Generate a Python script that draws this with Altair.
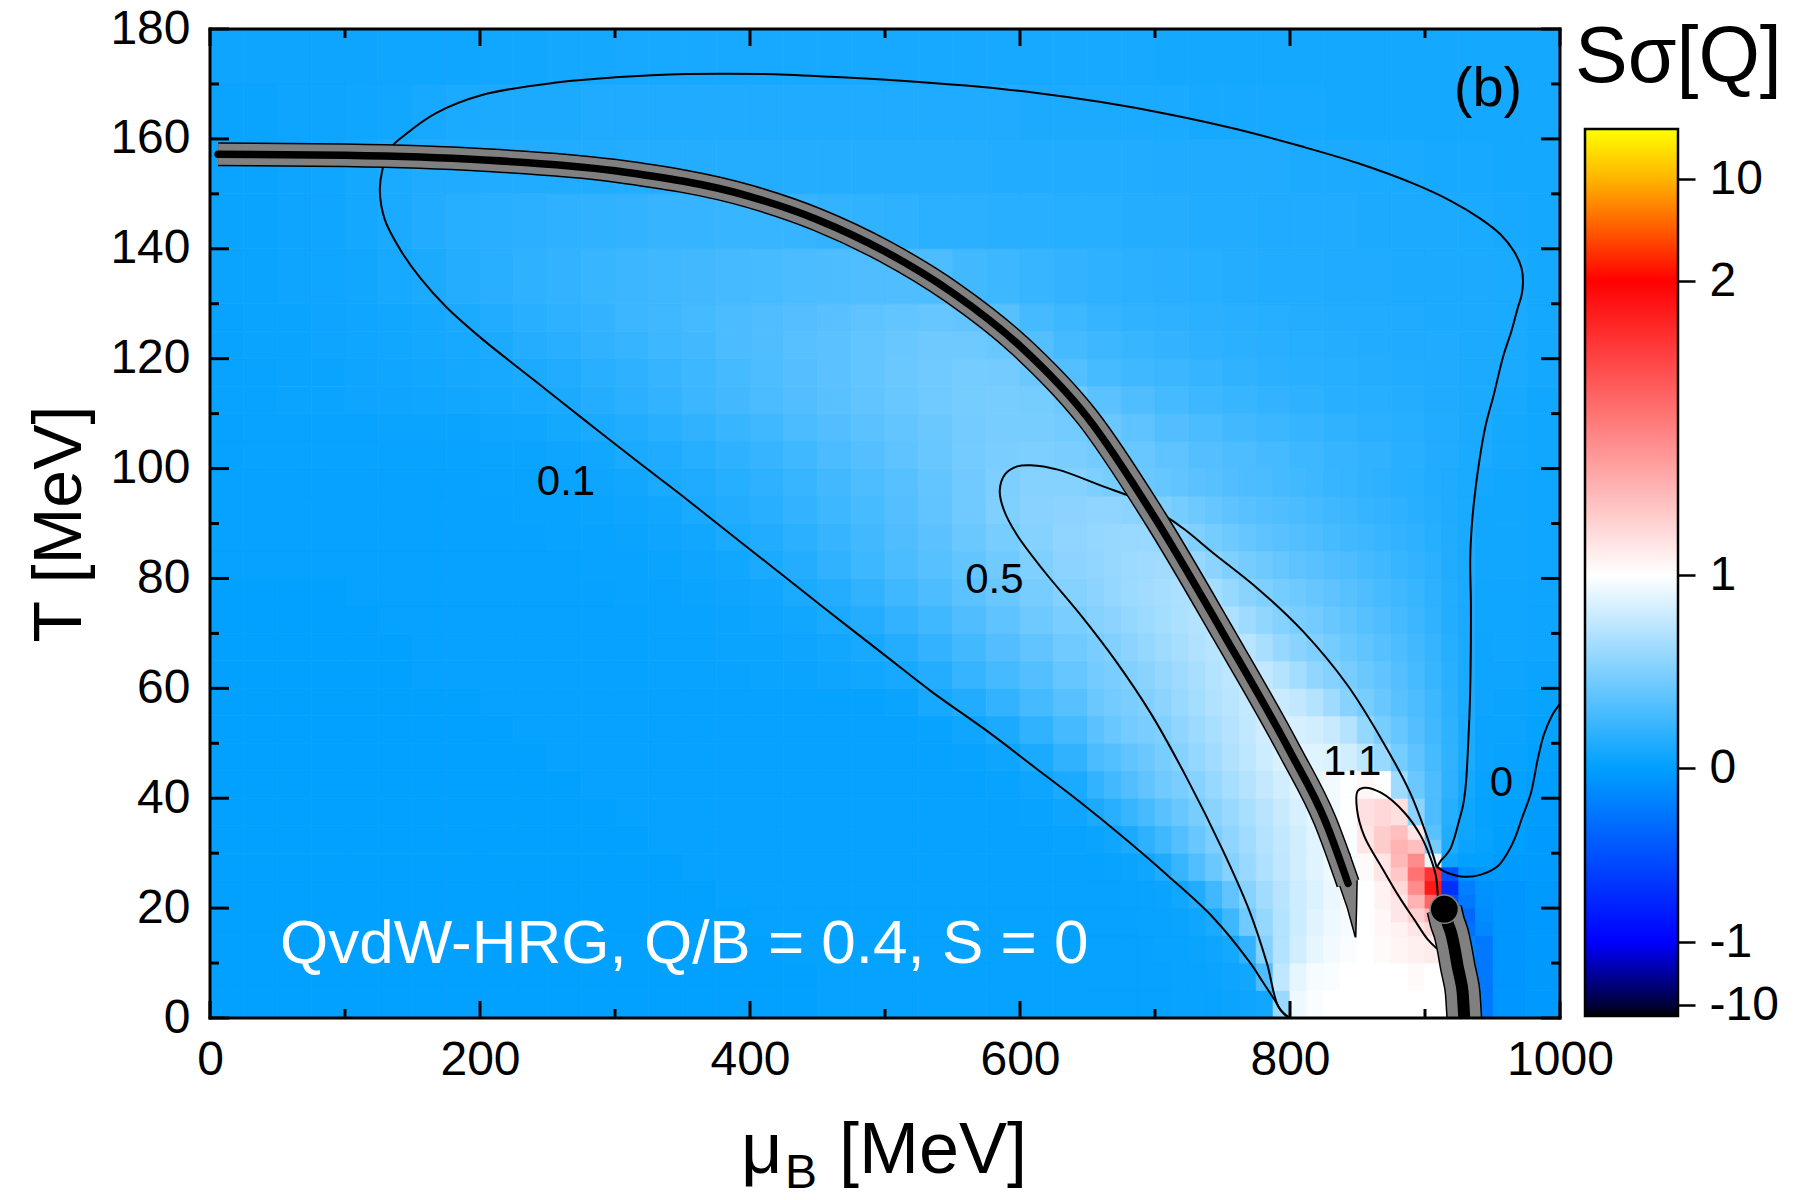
import altair as alt
import pandas as pd

FONT = "Liberation Sans"
W, H = 1350, 989  # plot area in px

# ---------------------------------------------------------------------------
# S*sigma[Q] sampled on a (mu_B, T) grid; rows run from low T to high T
# ---------------------------------------------------------------------------
MU_EDGES = list(range(0, 1001, 25))
T_EDGES = [0, 5, 10, 15, 20, 25, 30, 35, 40, 45, 50, 55, 60, 65, 70, 75, 80, 85, 90, 95, 100,
           105, 110, 115, 120, 125, 130, 140, 150, 160, 170, 180]

S_GRID = [
    # T 0-5
    [0.01, 0.01, 0.01, 0.01, 0.01, 0.01, 0.01, 0.01, 0.01, 0.01, 0.01, 0.01, 0.01, 0.01, 0.01, 0.01, 0.01, 0.01,
     0.02, 0.02, 0.02, 0.02, 0.02, 0.02, 0.02, 0.02, 0.02, 0.02, 0.02, 0.02,
     0.05, 0.40, 0.95, 1.00, 1.00, 1.00, 1.00, -0.20, -0.06, -0.04],
    # T 5-10
    [0.01, 0.01, 0.01, 0.01, 0.01, 0.01, 0.01, 0.01, 0.01, 0.01, 0.01, 0.01, 0.01, 0.01, 0.01, 0.01, 0.01, 0.01,
     0.02, 0.02, 0.02, 0.02, 0.02, 0.02, 0.02, 0.02, 0.02, 0.02, 0.02, 0.02,
     0.06, 0.50, 0.90, 0.98, 1.00, 1.02, 1.00, -0.20, -0.06, -0.04],
    # T 10-15
    [0.01, 0.01, 0.01, 0.01, 0.01, 0.01, 0.01, 0.01, 0.01, 0.01, 0.01, 0.01, 0.01, 0.01, 0.01, 0.01, 0.01,
     0.02, 0.02, 0.02, 0.02, 0.02, 0.02, 0.02, 0.02, 0.02, 0.02, 0.02, 0.02,
     0.04, 0.09, 0.58, 0.86, 0.96, 1.00, 1.06, 1.00, -0.20, -0.06, -0.04],
    # T 15-20
    [0.01, 0.01, 0.01, 0.01, 0.01, 0.01, 0.01, 0.01, 0.01, 0.01, 0.01, 0.01, 0.01, 0.01, 0.01, 0.01,
     0.02, 0.02, 0.02, 0.02, 0.02, 0.02, 0.02, 0.02, 0.02, 0.02, 0.02, 0.02,
     0.04, 0.08, 0.32, 0.62, 0.82, 0.95, 1.02, 1.10, 1.00, -0.20, -0.06, -0.04],
    # T 20-25
    [0.01, 0.01, 0.01, 0.01, 0.01, 0.01, 0.01, 0.01, 0.01, 0.01, 0.01, 0.01, 0.01, 0.01, 0.01,
     0.02, 0.02, 0.02, 0.02, 0.02, 0.02, 0.02, 0.02, 0.02, 0.02, 0.02,
     0.03, 0.05, 0.08, 0.20, 0.45, 0.66, 0.82, 0.94, 1.02, 1.25, 0.50, -0.15, -0.06, -0.04],
    # T 25-30
    [0.01, 0.01, 0.01, 0.01, 0.01, 0.01, 0.01, 0.01, 0.01, 0.01, 0.01, 0.01, 0.01, 0.01,
     0.02, 0.02, 0.02, 0.02, 0.02, 0.02, 0.02, 0.02, 0.02, 0.02, 0.02, 0.02,
     0.04, 0.07, 0.16, 0.34, 0.53, 0.70, 0.84, 0.96, 1.08, 1.35, 0.40, -0.05, -0.03, -0.03],
    # T 30-35
    [0.01, 0.01, 0.01, 0.01, 0.01, 0.01, 0.01, 0.01, 0.01, 0.01, 0.01, 0.01, 0.01,
     0.02, 0.02, 0.02, 0.02, 0.02, 0.02, 0.02, 0.02, 0.02, 0.02, 0.02, 0.02,
     0.03, 0.05, 0.12, 0.28, 0.45, 0.60, 0.74, 0.86, 0.97, 1.15, 1.28, 0.25, 0.04, 0.00, -0.03],
    # T 35-40
    [0.01, 0.01, 0.01, 0.01, 0.01, 0.01, 0.01, 0.01, 0.01, 0.01, 0.01, 0.01,
     0.02, 0.02, 0.02, 0.02, 0.02, 0.02, 0.02, 0.02, 0.02, 0.02, 0.02, 0.02,
     0.03, 0.05, 0.10, 0.22, 0.36, 0.50, 0.63, 0.76, 0.87, 0.98, 1.12, 0.85, 0.22, 0.05, 0.01, -0.02],
    # T 40-45
    [0.01, 0.01, 0.01, 0.01, 0.01, 0.01, 0.01, 0.01, 0.01, 0.01, 0.01,
     0.02, 0.02, 0.02, 0.02, 0.02, 0.02, 0.02, 0.02, 0.02, 0.02, 0.02, 0.02,
     0.03, 0.05, 0.10, 0.19, 0.30, 0.45, 0.57, 0.67, 0.78, 0.88, 0.96, 1.02, 0.58, 0.25, 0.07, 0.02, -0.01],
    # T 45-50
    [0.01, 0.01, 0.01, 0.01, 0.01, 0.01, 0.01, 0.01, 0.01, 0.01,
     0.02, 0.02, 0.02, 0.02, 0.02, 0.02, 0.02, 0.02, 0.02, 0.02, 0.02, 0.02,
     0.03, 0.05, 0.10, 0.19, 0.29, 0.38, 0.48, 0.59, 0.70, 0.80, 0.88, 0.86, 0.66, 0.40, 0.21, 0.08, 0.03, 0.01],
    # T 50-55
    [0.01, 0.01, 0.01, 0.01, 0.01, 0.01, 0.01, 0.01, 0.01,
     0.02, 0.02, 0.02, 0.02, 0.02, 0.02, 0.02, 0.02, 0.02, 0.02, 0.02, 0.02,
     0.03, 0.06, 0.11, 0.19, 0.27, 0.35, 0.44, 0.53, 0.62, 0.71, 0.79, 0.84, 0.80, 0.54, 0.36, 0.20, 0.09, 0.04, 0.02],
    # T 55-60
    [0.01, 0.01, 0.01, 0.01, 0.01, 0.01, 0.01, 0.01,
     0.02, 0.02, 0.02, 0.02, 0.02, 0.02, 0.02, 0.02, 0.02, 0.02, 0.02, 0.02,
     0.04, 0.09, 0.13, 0.20, 0.27, 0.34, 0.41, 0.48, 0.56, 0.65, 0.73, 0.79, 0.78, 0.62, 0.45, 0.32, 0.19, 0.09, 0.04, 0.03],
    # T 60-65
    [0.01, 0.01, 0.01, 0.01, 0.01, 0.01, 0.02, 0.02, 0.02, 0.02, 0.02, 0.02, 0.02, 0.03, 0.03, 0.03,
     0.04, 0.04, 0.05, 0.07, 0.09, 0.14, 0.21, 0.27, 0.33, 0.40, 0.46, 0.53, 0.60, 0.67, 0.75, 0.77, 0.67, 0.50,
     0.40, 0.30, 0.20, 0.09, 0.05, 0.04],
    # T 65-70
    [0.01, 0.01, 0.01, 0.01, 0.01, 0.01, 0.02, 0.02, 0.02, 0.02, 0.02, 0.02, 0.02, 0.03, 0.03,
     0.04, 0.04, 0.05, 0.07, 0.09, 0.14, 0.20, 0.26, 0.32, 0.38, 0.44, 0.50, 0.57, 0.64, 0.71, 0.73, 0.64, 0.52,
     0.45, 0.37, 0.28, 0.19, 0.10, 0.06, 0.05],
    # T 70-75
    [0.01, 0.01, 0.01, 0.01, 0.01, 0.02, 0.02, 0.02, 0.02, 0.02, 0.02, 0.02, 0.02, 0.03, 0.03,
     0.04, 0.05, 0.07, 0.10, 0.14, 0.20, 0.25, 0.31, 0.37, 0.43, 0.48, 0.54, 0.60, 0.66, 0.71, 0.65, 0.55, 0.47,
     0.41, 0.34, 0.26, 0.18, 0.10, 0.06, 0.05],
    # T 75-80
    [0.01, 0.01, 0.01, 0.01, 0.02, 0.02, 0.02, 0.02, 0.02, 0.02, 0.02, 0.02, 0.03, 0.03,
     0.04, 0.05, 0.07, 0.10, 0.14, 0.19, 0.25, 0.30, 0.36, 0.41, 0.47, 0.52, 0.57, 0.62, 0.66, 0.64, 0.55, 0.48,
     0.42, 0.36, 0.30, 0.23, 0.16, 0.10, 0.06, 0.05],
    # T 80-85
    [0.02, 0.02, 0.02, 0.02, 0.02, 0.02, 0.02, 0.02, 0.02, 0.02, 0.02, 0.03, 0.03,
     0.04, 0.05, 0.07, 0.10, 0.14, 0.19, 0.24, 0.29, 0.34, 0.39, 0.44, 0.50, 0.55, 0.59, 0.62, 0.62, 0.55, 0.47,
     0.41, 0.36, 0.31, 0.26, 0.20, 0.15, 0.10, 0.07, 0.06],
    # T 85-90
    [0.02, 0.02, 0.02, 0.02, 0.02, 0.02, 0.02, 0.02, 0.02, 0.02, 0.03, 0.03,
     0.04, 0.05, 0.07, 0.10, 0.13, 0.17, 0.21, 0.26, 0.31, 0.36, 0.42, 0.47, 0.52, 0.56, 0.59, 0.60, 0.55, 0.48,
     0.42, 0.37, 0.32, 0.28, 0.23, 0.19, 0.14, 0.10, 0.07, 0.06],
    # T 90-95
    [0.02, 0.02, 0.02, 0.02, 0.02, 0.02, 0.02, 0.02, 0.02, 0.03, 0.03,
     0.04, 0.05, 0.07, 0.10, 0.13, 0.16, 0.20, 0.24, 0.28, 0.33, 0.38, 0.44, 0.50, 0.53, 0.55, 0.56, 0.53, 0.47,
     0.42, 0.37, 0.33, 0.29, 0.25, 0.21, 0.18, 0.14, 0.10, 0.07, 0.06],
    # T 95-100
    [0.02, 0.02, 0.02, 0.02, 0.02, 0.02, 0.02, 0.02, 0.03, 0.03,
     0.04, 0.05, 0.07, 0.10, 0.12, 0.15, 0.18, 0.22, 0.26, 0.30, 0.34, 0.39, 0.44, 0.49, 0.52, 0.52, 0.49, 0.45,
     0.41, 0.37, 0.34, 0.30, 0.27, 0.23, 0.20, 0.17, 0.13, 0.10, 0.07, 0.06],
    # T 100-105
    [0.02, 0.03, 0.03, 0.03, 0.03, 0.03, 0.03, 0.03,
     0.04, 0.04, 0.05, 0.07, 0.10, 0.12, 0.15, 0.18, 0.21, 0.25, 0.29, 0.33, 0.37, 0.41, 0.45, 0.48, 0.49, 0.48,
     0.45, 0.41, 0.37, 0.33, 0.30, 0.27, 0.24, 0.21, 0.19, 0.16, 0.13, 0.10, 0.08, 0.07],
    # T 105-110
    [0.02, 0.03, 0.03, 0.03, 0.03, 0.04, 0.04, 0.04, 0.05, 0.06, 0.08, 0.10, 0.13, 0.16, 0.19, 0.22, 0.25, 0.29,
     0.32, 0.36, 0.39, 0.42, 0.45, 0.47, 0.47, 0.45, 0.42, 0.37, 0.32, 0.29, 0.26, 0.23, 0.21, 0.19, 0.17, 0.15,
     0.13, 0.11, 0.08, 0.07],
    # T 110-115
    [0.03, 0.03, 0.04, 0.04, 0.05, 0.05, 0.06, 0.07, 0.08, 0.09, 0.11, 0.14, 0.17, 0.20, 0.23, 0.26, 0.29, 0.32,
     0.35, 0.38, 0.41, 0.44, 0.46, 0.47, 0.46, 0.43, 0.36, 0.31, 0.27, 0.24, 0.22, 0.20, 0.18, 0.16, 0.15, 0.14,
     0.12, 0.11, 0.09, 0.07],
    # T 115-120
    [0.03, 0.03, 0.04, 0.04, 0.05, 0.06, 0.07, 0.08, 0.09, 0.11, 0.13, 0.16, 0.18, 0.21, 0.24, 0.27, 0.30, 0.33,
     0.36, 0.39, 0.42, 0.44, 0.46, 0.45, 0.42, 0.33, 0.28, 0.25, 0.23, 0.21, 0.19, 0.17, 0.16, 0.15, 0.14, 0.13,
     0.12, 0.11, 0.10, 0.08],
    # T 120-125
    [0.03, 0.04, 0.04, 0.05, 0.06, 0.07, 0.08, 0.09, 0.11, 0.14, 0.16, 0.19, 0.21, 0.24, 0.26, 0.29, 0.31, 0.34,
     0.36, 0.39, 0.41, 0.43, 0.43, 0.41, 0.33, 0.27, 0.24, 0.22, 0.20, 0.18, 0.17, 0.16, 0.15, 0.14, 0.13, 0.12,
     0.12, 0.11, 0.10, 0.08],
    # T 125-130
    [0.03, 0.04, 0.04, 0.05, 0.06, 0.07, 0.08, 0.10, 0.13, 0.16, 0.18, 0.20, 0.23, 0.25, 0.27, 0.29, 0.31, 0.33,
     0.35, 0.37, 0.39, 0.40, 0.39, 0.34, 0.27, 0.24, 0.21, 0.19, 0.18, 0.17, 0.16, 0.15, 0.14, 0.13, 0.13, 0.12,
     0.11, 0.11, 0.10, 0.08],
    # T 130-140
    [0.04, 0.04, 0.05, 0.06, 0.07, 0.09, 0.11, 0.14, 0.16, 0.18, 0.20, 0.22, 0.23, 0.25, 0.26, 0.27, 0.28, 0.29,
     0.30, 0.31, 0.31, 0.30, 0.26, 0.24, 0.22, 0.20, 0.18, 0.17, 0.16, 0.15, 0.14, 0.13, 0.13, 0.12, 0.12, 0.11,
     0.11, 0.11, 0.10, 0.08],
    # T 140-150
    [0.04, 0.04, 0.05, 0.06, 0.08, 0.10, 0.13, 0.15, 0.16, 0.17, 0.18, 0.19, 0.20, 0.21, 0.21, 0.22, 0.22, 0.21,
     0.20, 0.19, 0.18, 0.17, 0.17, 0.16, 0.16, 0.15, 0.15, 0.14, 0.14, 0.13, 0.13, 0.12, 0.12, 0.12, 0.11, 0.11,
     0.11, 0.10, 0.09, 0.08],
    # T 150-160
    [0.04, 0.04, 0.05, 0.06, 0.08, 0.10, 0.12, 0.12, 0.13, 0.13, 0.13, 0.13, 0.14, 0.14, 0.14, 0.14, 0.14, 0.14,
     0.14, 0.14, 0.14, 0.14, 0.14, 0.13, 0.13, 0.13, 0.13, 0.13, 0.12, 0.12, 0.12, 0.12, 0.11, 0.11, 0.10, 0.10,
     0.09, 0.09, 0.08, 0.08],
    # T 160-170
    [0.04, 0.04, 0.05, 0.05, 0.06, 0.07, 0.09, 0.10, 0.11, 0.11, 0.11, 0.12, 0.12, 0.12, 0.12, 0.12, 0.12, 0.12,
     0.12, 0.12, 0.12, 0.12, 0.12, 0.12, 0.11, 0.11, 0.11, 0.10, 0.10, 0.09, 0.09, 0.09, 0.09, 0.08, 0.08, 0.08,
     0.08, 0.08, 0.08, 0.08],
    # T 170-180
    [0.05, 0.05, 0.05, 0.05, 0.05, 0.06, 0.06, 0.06, 0.07, 0.07, 0.08, 0.08, 0.09, 0.09, 0.09, 0.09, 0.09, 0.09,
     0.09, 0.09, 0.09, 0.09, 0.09, 0.09, 0.09, 0.09, 0.09, 0.09, 0.08, 0.08, 0.08, 0.08, 0.08, 0.08, 0.08, 0.08,
     0.08, 0.08, 0.08, 0.08],
]

# finer sampling (12.5 MeV x 5 MeV) over the bright region, mu_B 650-950, T 0-100
FINE_MU_EDGES = [650 + 12.5 * k for k in range(25)]
FINE_T_EDGES = list(range(0, 101, 5))
FINE_GRID = [
    [0.02, 0.02, 0.02, 0.02, 0.02, 0.03, 0.03, 0.03, 0.04, 0.05, 0.07, 0.60, 0.93, 0.98, 1.00, 1.00, 1.00, 1.00,
     1.00, 1.00, 1.00, 1.00, -0.20, -0.25],
    [0.02, 0.02, 0.02, 0.02, 0.02, 0.03, 0.03, 0.04, 0.05, 0.07, 0.30, 0.75, 0.90, 0.96, 0.98, 1.00, 1.00, 1.00,
     1.00, 1.02, 1.00, 1.00, -0.20, -0.25],
    [0.02, 0.02, 0.02, 0.02, 0.03, 0.03, 0.04, 0.05, 0.08, 0.20, 0.52, 0.70, 0.82, 0.90, 0.95, 0.98, 1.00, 1.02,
     1.04, 1.06, 1.08, 1.00, -0.20, -0.25],
    [0.02, 0.02, 0.02, 0.03, 0.03, 0.04, 0.06, 0.10, 0.24, 0.44, 0.58, 0.70, 0.80, 0.88, 0.93, 0.96, 1.00, 1.03,
     1.06, 1.10, 1.20, 1.00, -0.30, -0.20],
    [0.02, 0.02, 0.03, 0.03, 0.04, 0.07, 0.13, 0.25, 0.38, 0.53, 0.63, 0.72, 0.80, 0.86, 0.92, 0.96, 1.00, 1.05,
     1.10, 1.30, 1.70, -0.50, -0.20, -0.08],
    [0.02, 0.03, 0.04, 0.06, 0.12, 0.22, 0.32, 0.42, 0.52, 0.60, 0.68, 0.75, 0.82, 0.88, 0.93, 0.97, 1.02, 1.10,
     1.22, 1.45, 1.30, 0.00, -0.05, -0.04],
    [0.04, 0.06, 0.11, 0.18, 0.25, 0.33, 0.41, 0.49, 0.56, 0.63, 0.70, 0.76, 0.82, 0.88, 0.93, 0.98, 1.10, 1.20,
     1.28, 1.20, 0.40, 0.12, 0.04, 0.02],
    [0.11, 0.16, 0.22, 0.28, 0.35, 0.41, 0.47, 0.54, 0.60, 0.66, 0.72, 0.78, 0.84, 0.89, 0.94, 1.00, 1.12, 1.15,
     1.12, 0.55, 0.30, 0.15, 0.06, 0.02],
    [0.20, 0.26, 0.32, 0.38, 0.44, 0.48, 0.53, 0.59, 0.65, 0.71, 0.77, 0.82, 0.87, 0.91, 0.95, 0.99, 1.03, 1.00,
     0.62, 0.42, 0.30, 0.18, 0.08, 0.03],
    [0.29, 0.33, 0.38, 0.42, 0.47, 0.52, 0.58, 0.63, 0.69, 0.74, 0.80, 0.85, 0.88, 0.88, 0.86, 0.82, 0.74, 0.60,
     0.46, 0.37, 0.28, 0.19, 0.10, 0.04],
    [0.36, 0.41, 0.45, 0.48, 0.51, 0.56, 0.61, 0.66, 0.71, 0.76, 0.81, 0.84, 0.84, 0.82, 0.78, 0.70, 0.58, 0.47,
     0.40, 0.33, 0.26, 0.18, 0.10, 0.04],
    [0.42, 0.45, 0.48, 0.51, 0.55, 0.60, 0.64, 0.69, 0.73, 0.77, 0.79, 0.79, 0.76, 0.70, 0.62, 0.53, 0.47, 0.41,
     0.35, 0.30, 0.24, 0.17, 0.10, 0.05],
    [0.45, 0.48, 0.51, 0.54, 0.58, 0.62, 0.66, 0.70, 0.74, 0.77, 0.76, 0.71, 0.64, 0.57, 0.52, 0.47, 0.42, 0.38,
     0.33, 0.28, 0.22, 0.16, 0.10, 0.05],
    [0.48, 0.51, 0.55, 0.58, 0.62, 0.65, 0.69, 0.72, 0.74, 0.72, 0.66, 0.59, 0.54, 0.50, 0.46, 0.42, 0.38, 0.34,
     0.30, 0.26, 0.21, 0.15, 0.10, 0.05],
    [0.52, 0.55, 0.58, 0.61, 0.64, 0.67, 0.70, 0.71, 0.68, 0.62, 0.57, 0.52, 0.48, 0.45, 0.41, 0.38, 0.34, 0.31,
     0.27, 0.23, 0.19, 0.14, 0.10, 0.06],
    [0.55, 0.58, 0.61, 0.63, 0.65, 0.67, 0.67, 0.64, 0.59, 0.54, 0.50, 0.46, 0.43, 0.40, 0.37, 0.34, 0.31, 0.28,
     0.25, 0.22, 0.18, 0.14, 0.10, 0.06],
    [0.57, 0.59, 0.61, 0.62, 0.63, 0.62, 0.59, 0.55, 0.50, 0.46, 0.43, 0.40, 0.37, 0.35, 0.32, 0.30, 0.27, 0.25,
     0.22, 0.20, 0.17, 0.13, 0.10, 0.07],
    [0.58, 0.59, 0.60, 0.60, 0.59, 0.55, 0.50, 0.46, 0.43, 0.40, 0.37, 0.35, 0.33, 0.30, 0.28, 0.26, 0.24, 0.22,
     0.20, 0.18, 0.15, 0.13, 0.10, 0.07],
    [0.56, 0.56, 0.55, 0.53, 0.49, 0.46, 0.43, 0.40, 0.37, 0.35, 0.33, 0.31, 0.29, 0.27, 0.25, 0.23, 0.21, 0.20,
     0.18, 0.16, 0.14, 0.12, 0.10, 0.07],
    [0.49, 0.47, 0.45, 0.42, 0.40, 0.38, 0.36, 0.34, 0.32, 0.30, 0.29, 0.27, 0.26, 0.24, 0.22, 0.21, 0.19, 0.18,
     0.16, 0.15, 0.13, 0.12, 0.10, 0.08],
]

# finest sampling around the critical point
PATCH_MU_EDGES = [875, 887.5, 900, 912.5, 925, 937.5, 950]
PATCH_T_EDGES = [15, 17.5, 20, 22.5, 25, 27.5, 30, 32.5, 35]
PATCH_GRID = [
    [1.05, 1.10, 1.15, 1.00, -0.30, -0.15],
    [1.10, 1.18, 1.30, -0.50, -0.35, -0.12],
    [1.10, 1.30, 1.60, -0.50, -0.25, -0.10],
    [1.15, 1.45, 1.90, -0.70, -0.20, -0.08],
    [1.22, 1.55, 1.80, -0.50, -0.10, -0.05],
    [1.28, 1.45, 0.90, 0.05, 0.01, 0.01],
    [1.30, 1.25, 0.45, 0.12, 0.04, 0.02],
    [1.25, 1.10, 0.35, 0.13, 0.06, 0.03],
]

# ---------------------------------------------------------------------------
# contour lines (mu_B, T)
# ---------------------------------------------------------------------------
C01_MU = [800, 794, 788, 780, 770, 743, 710, 677, 644, 611, 578, 534, 500, 454, 417, 371, 349, 315, 277,
          239, 201.5, 175, 156, 141, 129.5, 125.8, 127.7, 133.3, 144.7, 167.4, 201.5, 258, 300, 353, 410,
          460, 512, 560, 611, 660, 710, 760, 809, 850, 892, 920, 941, 956, 966, 971.5, 972.6, 971.5, 969, 964,
          958, 951, 944.6, 940, 936.5, 934.5, 933.5, 934, 933.4, 932, 930.2, 928, 925.2, 922, 918.6, 915, 911.9,
          909]
C01_T = [0, 1.2, 3.5, 6.5, 10.2, 18.3, 25.8, 32.8, 39.4, 45.6, 51.8, 59.5, 66, 74.8, 82, 90.9, 95.2, 101.6,
         108.9, 116.3, 123.6, 129.4, 134.6, 139.8, 145.3, 150.5, 154.4, 158.2, 160.8, 164.7, 168, 170.3, 171.2,
         171.8, 171.8, 171.3, 170.6, 169.7, 168.4, 166.7, 164.5, 161.8, 158.6, 155.6, 151.8, 148.6, 145.5, 142.6,
         139.5, 136.5, 134, 131.5, 129.5, 125, 120.5, 113.5, 107.5, 101, 94.4, 89, 83.5, 75, 58.7, 50, 42.4,
         38.5, 35.9, 33, 30.7, 29.5, 28.7, 27.5]

C05_MU = [799, 791.3, 783, 769.8, 749.9, 723.5, 697, 670.6, 644.1, 617.6, 597.8, 588, 585, 589, 598, 608, 628,
          661, 687, 705, 722, 743.3, 776.4, 809.5, 842.5, 869, 888.8, 902.1, 908.7]
C05_T = [0, 2.1, 9.9, 19.6, 30.7, 43.7, 55.4, 65.1, 73.6, 81.4, 87.9, 92.5, 96, 99, 100.4, 100.6, 99.8, 96.8,
         94.4, 91.8, 88.9, 84.6, 78.1, 70.4, 60.6, 50.2, 41.1, 32.6, 27.4]

C11_MU = [908.9, 902, 892.1, 881, 869, 855, 849.6, 850.1, 855, 867.4, 884.7, 897, 904.4, 908.1, 909.5, 909.5, 908.9]
C11_T = [12.6, 14.3, 17.9, 22, 27, 33.1, 38, 41.3, 41.9, 41, 37.4, 33.1, 28.9, 25.8, 22, 17, 12.6]

C00_MU = [909, 911.9, 916.8, 929.1, 941.5, 953.8, 961, 966.2, 972, 978.5, 983.5, 988, 994, 1000]
C00_T = [27.5, 27, 26.4, 25.7, 26.1, 27.6, 30, 32.5, 36.5, 41, 47.1, 51.5, 55, 57.2]

CONTOUR_LABELS = ["0.1", "0.5", "1.1", "0"]
CONTOUR_LABEL_MU = [263.7, 581, 846, 956.6]
CONTOUR_LABEL_T = [97.5, 79.8, 46.6, 42.7]

# phase-transition line with its grey band
BAND_MU = [6, 100, 200, 300, 400, 450, 500, 550, 600, 650, 700, 750, 800, 826, 843]
BAND_T = [157.2, 157.0, 156.2, 154.2, 149.5, 145.3, 139.5, 132.0, 122.3, 109.3, 91.0, 70.2, 48.5, 35.9, 24.5]
WEDGE_T = [14.8, 20, 25, 30]
WEDGE_LEFT = [848.3, 842.5, 835.5, 829.5]
WEDGE_RIGHT = [848.7, 849.3, 849.7, 844]

LOW_MU = [914.3, 916.5, 919.3, 922, 924.2, 926.3, 927.9, 929.1, 929.8]
LOW_T = [19.8, 17.5, 15.5, 12.5, 9.4, 7, 4.6, 0, -3]

CP_MU, CP_T = [914.3], [19.8]

MAJOR_MU = [0, 200, 400, 600, 800, 1000]
MINOR_MU = [100, 300, 500, 700, 900]
MAJOR_T = [0, 20, 40, 60, 80, 100, 120, 140, 160, 180]
MINOR_T = [10, 30, 50, 70, 90, 110, 130, 150, 170]

# colour map: values and colours at the colour-bar stops
CB_DOMAIN = [-11.7, -10, -1, 0, 1, 2, 10, 14]
CB_COLORS = ["#000000", "#00003c", "#0000ff", "#00a0ff", "#ffffff", "#ff0000", "#ffb400", "#ffff00"]
CB_TICKS = [-10, -1, 0, 1, 2, 10]
CB_PIX = [987, 976, 913, 739, 546, 252, 150, 100]  # pixel rows of the stops inside the bar panel

# ---------------------------------------------------------------------------
# scales / encodings shared by every layer
# ---------------------------------------------------------------------------
XSCALE = alt.Scale(domain=[0, 1000], nice=False, zero=False)
YSCALE = alt.Scale(domain=[0, 180], nice=False, zero=False)
XAXIS = alt.Axis(values=MAJOR_MU, format="d", ticks=False, domain=False, grid=False, title=None,
                 labelFont=FONT, labelFontSize=48, labelColor="black", labelPadding=18,
                 labelFlush=False, labelOverlap=False)
YAXIS = alt.Axis(values=MAJOR_T, format="d", ticks=False, domain=False, grid=False, title="T [MeV]",
                 titleFont=FONT, titleFontSize=68, titleFontWeight="normal", titleColor="black",
                 titlePadding=15, labelFont=FONT, labelFontSize=48, labelColor="black",
                 labelPadding=20, labelFlush=False, labelOverlap=False)
CSCALE = alt.Scale(domain=CB_DOMAIN, range=CB_COLORS, interpolate="rgb", clamp=True)


def X():
    return alt.X("mu:Q", scale=XSCALE, axis=XAXIS)


def Y():
    return alt.Y("T:Q", scale=YSCALE, axis=YAXIS)


def path(mu, t):
    return pd.DataFrame({"mu": mu, "T": t, "i": list(range(len(mu)))})


def grid_frame(mu_edges, t_edges, grid):
    rows = []
    for j, row in enumerate(grid):
        for i, v in enumerate(row):
            rows.append({"mu": mu_edges[i], "mu2": mu_edges[i + 1],
                         "T": t_edges[j], "T2": t_edges[j + 1], "S": v})
    return pd.DataFrame(rows)


def heat(df):
    return alt.Chart(df).mark_rect(strokeWidth=0.8).encode(
        x=X(), x2="mu2:Q", y=Y(), y2="T2:Q",
        color=alt.Color("S:Q", scale=CSCALE, legend=None),
        stroke=alt.Stroke("S:Q", scale=CSCALE, legend=None),
    )


def line(df, color, width, cap="butt", clip=False, interp="catmull-rom"):
    return alt.Chart(df).mark_line(color=color, strokeWidth=width, strokeCap=cap, strokeJoin="round",
                                   interpolate=interp, clip=clip).encode(x=X(), y=Y(), order="i:Q")


one = pd.DataFrame({"k": [0]})

layers = [
    heat(grid_frame(MU_EDGES, T_EDGES, S_GRID)),
    heat(grid_frame(FINE_MU_EDGES, FINE_T_EDGES, FINE_GRID)),
    heat(grid_frame(PATCH_MU_EDGES, PATCH_T_EDGES, PATCH_GRID)),
]

# contour lines
for mu, t in [(C01_MU, C01_T), (C05_MU, C05_T), (C11_MU, C11_T), (C00_MU, C00_T)]:
    layers.append(line(path(mu, t), "black", 2))

# phase-transition band: outline, grey fill, black core
band = path(BAND_MU, BAND_T)
low = path(LOW_MU, LOW_T)
wedge = pd.DataFrame({"T": WEDGE_T, "mu": WEDGE_LEFT, "mu2": WEDGE_RIGHT})
layers += [
    line(band, "black", 24, interp="monotone"),
    line(low, "black", 36, clip=True, interp="monotone"),
    alt.Chart(wedge).mark_area(orient="horizontal", color="#808080", stroke="black", strokeWidth=1.5).encode(
        y=Y(), x=X(), x2="mu2:Q"),
    line(band, "#808080", 21, interp="monotone"),
    line(low, "#808080", 33, clip=True, interp="monotone"),
    line(band, "black", 7.5, cap="round", interp="monotone"),
    line(low, "black", 12, clip=True, interp="monotone"),
]

# critical point
layers.append(
    alt.Chart(pd.DataFrame({"mu": CP_MU, "T": CP_T})).mark_circle(
        size=800, color="black", opacity=1, stroke="#808080", strokeWidth=1.5).encode(x=X(), y=Y())
)

# contour labels
layers.append(
    alt.Chart(pd.DataFrame({"mu": CONTOUR_LABEL_MU, "T": CONTOUR_LABEL_T, "label": CONTOUR_LABELS}))
    .mark_text(font=FONT, fontSize=42, color="black", align="center", baseline="middle")
    .encode(x=X(), y=Y(), text="label:N")
)

# panel annotations
layers.append(
    alt.Chart(pd.DataFrame({"mu": [946.7], "T": [169.0], "label": ["(b)"]}))
    .mark_text(font=FONT, fontSize=56, color="black", align="center", baseline="middle")
    .encode(x=X(), y=Y(), text="label:N")
)
layers.append(
    alt.Chart(pd.DataFrame({"mu": [51.8], "T": [10.0], "label": ["QvdW-HRG, Q/B = 0.4, S = 0"]}))
    .mark_text(font=FONT, fontSize=62, color="white", align="left", baseline="alphabetic")
    .encode(x=X(), y=Y(), text="label:N")
)

# inward ticks on all four sides
TICK_MAJ, TICK_MIN, TW = 17, 9, 3
for vals, L in [(MAJOR_MU, TICK_MAJ), (MINOR_MU, TICK_MIN)]:
    d = pd.DataFrame({"mu": vals})
    layers.append(alt.Chart(d).mark_rule(color="black", strokeWidth=TW).encode(
        x=X(), y=alt.value(H), y2=alt.value(H - L)))
    layers.append(alt.Chart(d).mark_rule(color="black", strokeWidth=TW).encode(
        x=X(), y=alt.value(0), y2=alt.value(L)))
for vals, L in [(MAJOR_T, TICK_MAJ + 2), (MINOR_T, TICK_MIN)]:
    d = pd.DataFrame({"T": vals})
    layers.append(alt.Chart(d).mark_rule(color="black", strokeWidth=TW).encode(
        y=Y(), x=alt.value(0), x2=alt.value(L)))
    layers.append(alt.Chart(d).mark_rule(color="black", strokeWidth=TW).encode(
        y=Y(), x=alt.value(W), x2=alt.value(W - L)))

# frame
for enc in [
    dict(x=alt.value(0), x2=alt.value(W), y=alt.value(0)),
    dict(x=alt.value(0), x2=alt.value(W), y=alt.value(H)),
    dict(x=alt.value(0), y=alt.value(0), y2=alt.value(H)),
    dict(x=alt.value(W), y=alt.value(0), y2=alt.value(H)),
]:
    layers.append(alt.Chart(one).mark_rule(color="black", strokeWidth=3, strokeCap="square").encode(**enc))

# x-axis title with subscript
for txt, px, py, fs in [("μ", 531, 1144, 72), ("B", 575, 1159, 48), ("[MeV]", 629, 1144, 72)]:
    layers.append(alt.Chart(one).mark_text(text=txt, font=FONT, fontSize=fs, color="black",
                                           align="left", baseline="alphabetic")
                  .encode(x=alt.value(px), y=alt.value(py)))

main = alt.layer(*layers).properties(width=W, height=H)

# ---------------------------------------------------------------------------
# colour bar
# ---------------------------------------------------------------------------
span = CB_PIX[0] - CB_PIX[-1]
grad = alt.LinearGradient(
    gradient="linear",
    stops=[alt.GradientStop(color=c, offset=(CB_PIX[0] - p) / span) for c, p in zip(CB_COLORS, CB_PIX)],
    x1=0, x2=0, y1=1, y2=0,
)
CB_AXIS = alt.Axis(orient="right", values=CB_TICKS, title=None, grid=False, domain=False,
                   ticks=True, tickSize=17, tickWidth=2.5, tickColor="black",
                   labelFont=FONT, labelFontSize=48, labelColor="black", labelPadding=14,
                   labelFlush=False, labelOverlap=False,
                   labelExpr="datum.value < 0 ? '-' + format(-datum.value, 'd') : format(datum.value, 'd')")
bar = alt.Chart(pd.DataFrame({"lo": [CB_DOMAIN[0]], "hi": [CB_DOMAIN[-1]]})).mark_rect(
    color=grad, stroke="black", strokeWidth=2.5).encode(
    x=alt.value(0), x2=alt.value(93),
    y=alt.Y("lo:Q", scale=alt.Scale(domain=CB_DOMAIN, range=CB_PIX, zero=False, nice=False), axis=CB_AXIS),
    y2="hi:Q",
)
cb_title = alt.Chart(one).mark_text(text="Sσ[Q]", font=FONT, fontSize=79, color="black",
                                    align="left", baseline="alphabetic").encode(
    x=alt.value(-10), y=alt.value(53))
cbar = alt.layer(bar, cb_title).properties(width=93, height=H)

chart = (
    alt.hconcat(main, cbar, spacing=25, bounds="flush")
    .properties(padding={"left": 26, "top": 5, "right": 5, "bottom": 5})
    .configure(font=FONT)
    .configure_view(stroke=None)
)

chart.save("out.html", embed_options={"renderer": "svg", "actions": False})
